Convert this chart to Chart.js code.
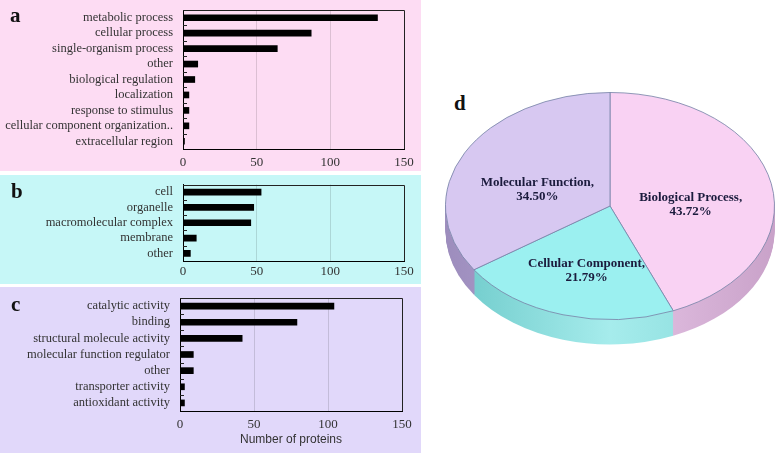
<!DOCTYPE html>
<html>
<head>
<meta charset="utf-8">
<script src="https://cdn.jsdelivr.net/npm/chart.js@4/dist/chart.umd.min.js"></script>
<style>
  html, body { margin: 0; padding: 0; background: #fff; width: 778px; height: 453px; overflow: hidden; }
  .panel { position: absolute; left: 0; width: 421px; }
  .panel canvas { position: absolute; left: 0; top: 0; }
  .tag { position: absolute; font: bold 21px 'Liberation Serif', serif; line-height: 20px; color: #111; }
  #pa { top: 0; height: 171px; background: #fddcf3; }
  #pb { top: 175px; height: 109px; background: #c6f7f7; }
  #pc { top: 287px; height: 166px; background: #e1d8fa; }
  #pieBox { position: absolute; left: 440px; top: 41px; }
</style>
</head>
<body>
<div class="panel" id="pa"><canvas id="barA" width="420" height="171"></canvas></div>
<div class="panel" id="pb"><canvas id="barB" width="420" height="109"></canvas></div>
<div class="panel" id="pc"><canvas id="barC" width="420" height="166"></canvas></div>
<div class="tag" style="left:10px;top:5px">a</div>
<div class="tag" style="left:11px;top:181px">b</div>
<div class="tag" style="left:11px;top:294px">c</div>
<div class="tag" style="left:454px;top:93px">d</div>
<div id="pieBox"><canvas id="pie" width="340" height="400"></canvas></div>

<script>
// data
const bpLabels = ['metabolic process', 'cellular process', 'single-organism process', 'other',
  'biological regulation', 'localization', 'response to stimulus',
  'cellular component organization..', 'extracellular region'];
const bpCounts = [132, 87, 64, 10, 8, 4, 4, 4, 1];

const ccLabels = ['cell', 'organelle', 'macromolecular complex', 'membrane', 'other'];
const ccCounts = [53, 48, 46, 9, 5];

const mfLabels = ['catalytic activity', 'binding', 'structural molecule activity',
  'molecular function regulator', 'other', 'transporter activity', 'antioxidant activity'];
const mfCounts = [104, 79, 42, 9, 9, 3, 3];

const xTicks = [0, 50, 100, 150];

const pieLabels = ['Biological Process', 'Cellular Component', 'Molecular Function'];
const piePercents = [43.72, 21.79, 34.50];

const serif = "'Liberation Serif', 'Times New Roman', serif";

// top + right edge of the plot box, and little ticks between categories
const framePlugin = {
  id: 'frame',
  afterDraw(chart) {
    const { ctx, chartArea: a } = chart;
    const ys = chart.scales.y;
    const xs = chart.scales.x;
    const top = Math.round(a.top) + 0.5;
    const right = Math.round(xs.getPixelForValue(xTicks[xTicks.length - 1])) + 0.5;
    const bottom = Math.round(a.bottom);
    ctx.save();
    ctx.strokeStyle = '#222';
    ctx.lineWidth = 1;
    ctx.beginPath();
    ctx.moveTo(a.left, top);
    ctx.lineTo(right, top);
    ctx.lineTo(right, bottom);
    ctx.stroke();
    const n = ys.ticks.length;
    const band = (a.bottom - a.top) / n;
    ctx.beginPath();
    for (let k = 1; k < n; k++) {
      const y = Math.round(a.top + k * band) + 0.5;
      ctx.moveTo(a.left, y);
      ctx.lineTo(a.left + 4, y);
    }
    ctx.stroke();
    ctx.restore();
  }
};

function makeBar(id, labels, values, o) {
  return new Chart(document.getElementById(id), {
    type: 'bar',
    data: {
      labels: labels,
      datasets: [{ data: values, backgroundColor: '#000', barThickness: 6 }]
    },
    options: {
      indexAxis: 'y',
      responsive: false,
      animation: false,
      events: [],
      layout: { padding: { left: 0, right: o.right, top: o.top, bottom: 0 } },
      plugins: { legend: { display: false }, tooltip: { enabled: false } },
      scales: {
        y: {
          afterFit: s => { s.width = o.left; },
          grid: { display: false },
          border: { display: true, color: '#000' },
          ticks: { color: '#333', font: { family: serif, size: 12.5 }, padding: 2, autoSkip: false }
        },
        x: {
          min: xTicks[0],
          max: xTicks[xTicks.length - 1],
          afterFit: s => { s.height = o.xh; },
          afterBuildTicks: s => { s.ticks = xTicks.map(v => ({ value: v })); },
          grid: {
            drawTicks: false,
            color: c => (c.tick && c.tick.value > xTicks[0] && c.tick.value < xTicks[xTicks.length - 1]) ? 'rgba(0,0,0,0.13)' : 'rgba(0,0,0,0)'
          },
          border: { display: true, color: '#000' },
          ticks: { color: '#333', font: { family: serif, size: 13 }, padding: o.tp },
          title: o.title ? {
            display: true, text: o.title, color: '#333',
            font: { family: "'Liberation Sans', Arial, sans-serif", size: 12 },
            padding: { top: 0, bottom: 6 }
          } : { display: false }
        }
      }
    },
    plugins: [framePlugin]
  });
}

makeBar('barA', bpLabels, bpCounts, { left: 183, right: 16, top: 10, xh: 22, tp: 6 });
makeBar('barB', ccLabels, ccCounts, { left: 183, right: 16, top: 9, xh: 23, tp: 3 });
makeBar('barC', mfLabels, mfCounts, { left: 180, right: 18, top: 11, xh: 42, tp: 6, title: 'Number of proteins' });

// pie, squashed to an ellipse with a side wall
const SY = 0.69;
const DEPTH = 25;
const topColors = ['#f9d2f3', '#9bf0f0', '#d7c8f1'];
const sideStops = [['#c9a2c9', '#e6c4e6', '#c9a2c9'], ['#6cc9c9', '#a6ecec', '#7fd6d6'], ['#9d8dbd', '#b9a9d6', '#a898c4']];

const tiltPlugin = {
  id: 'tilt',
  beforeDatasetsDraw(chart) {
    const { ctx } = chart;
    const meta = chart.getDatasetMeta(0);
    const cx = meta.data[0].x, cy = meta.data[0].y;
    const r = meta.data[0].outerRadius;
    const grads = sideStops.map(s => {
      const g = ctx.createLinearGradient(cx - r, 0, cx + r, 0);
      g.addColorStop(0, s[0]); g.addColorStop(0.5, s[1]); g.addColorStop(1, s[2]);
      return g;
    });
    for (let d = DEPTH; d >= 1; d--) {
      ctx.save();
      ctx.translate(cx, cy + d);
      ctx.scale(1, SY);
      ctx.translate(-cx, -cy);
      meta.data.forEach((arc, i) => {
        ctx.fillStyle = grads[i];
        ctx.beginPath();
        ctx.moveTo(cx, cy);
        ctx.arc(cx, cy, arc.outerRadius, arc.startAngle, arc.endAngle);
        ctx.closePath();
        ctx.fill();
      });
      ctx.restore();
    }
    ctx.save();
    ctx.translate(cx, cy);
    ctx.scale(1, SY);
    ctx.translate(-cx, -cy);
  },
  afterDatasetsDraw(chart) {
    chart.ctx.restore();
  },
  afterDraw(chart) {
    const { ctx } = chart;
    const meta = chart.getDatasetMeta(0);
    const cy = meta.data[0].y;
    ctx.save();
    ctx.font = 'bold 13px ' + serif;
    ctx.fillStyle = '#1b1b3d';
    ctx.textAlign = 'center';
    ctx.textBaseline = 'middle';
    meta.data.forEach((arc, i) => {
      const p = arc.tooltipPosition();
      const y = cy + (p.y - cy) * SY + 10;
      ctx.fillText(pieLabels[i] + ',', p.x, y - 7);
      ctx.fillText(piePercents[i].toFixed(2) + '%', p.x, y + 7);
    });
    ctx.restore();
  }
};

new Chart(document.getElementById('pie'), {
  type: 'pie',
  data: {
    labels: pieLabels,
    datasets: [{
      data: piePercents,
      backgroundColor: topColors,
      borderColor: '#7a86aa',
      borderWidth: 1
    }]
  },
  options: {
    responsive: false,
    animation: false,
    events: [],
    layout: { padding: { left: 5, right: 5, top: 0, bottom: 70 } },
    plugins: { legend: { display: false }, tooltip: { enabled: false } }
  },
  plugins: [tiltPlugin]
});
</script>
</body>
</html>
